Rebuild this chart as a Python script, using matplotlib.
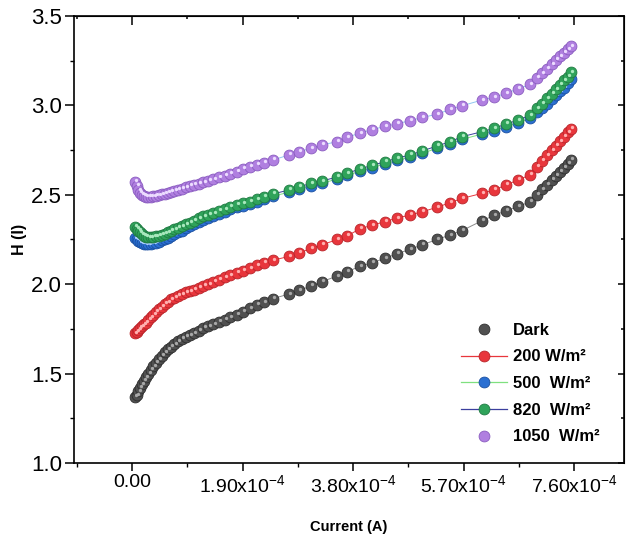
import matplotlib.pyplot as plt
import matplotlib.transforms as mtransforms
from matplotlib.lines import Line2D
from matplotlib.ticker import MultipleLocator
import numpy as np

plt.rcParams['font.family'] = ['Liberation Sans', 'DejaVu Sans']
plt.rcParams['mathtext.fontset'] = 'custom'
plt.rcParams['mathtext.rm'] = 'Liberation Sans'
plt.rcParams['mathtext.it'] = 'Liberation Sans:italic'
plt.rcParams['mathtext.bf'] = 'Liberation Sans:bold'

# current (units of 1e-4 A)
current = np.array([
    0.052, 0.081, 0.108, 0.138, 0.172, 0.206, 0.241, 0.280, 0.322, 0.366,
    0.413, 0.459, 0.511, 0.562, 0.614, 0.671, 0.727, 0.791, 0.855, 0.923,
    0.997, 1.066, 1.147, 1.226, 1.312, 1.398, 1.496, 1.594, 1.685, 1.800,
    1.909, 2.029, 2.149, 2.270, 2.425, 2.700, 2.872, 3.078, 3.267, 3.525,
    3.697, 3.920, 4.127, 4.350, 4.557, 4.780, 4.987, 5.245, 5.468, 5.674,
    6.018, 6.225, 6.431, 6.637, 6.844, 6.964, 7.050, 7.136, 7.222, 7.291,
    7.360, 7.428, 7.497, 7.549]) * 1e-4

h_dark = [
    1.37, 1.38, 1.40, 1.42, 1.44, 1.46, 1.48, 1.50, 1.52, 1.54,
    1.56, 1.58, 1.60, 1.62, 1.635, 1.65, 1.665, 1.68, 1.695, 1.705,
    1.715, 1.725, 1.74, 1.755, 1.765, 1.775, 1.79, 1.80, 1.815, 1.83,
    1.845, 1.865, 1.885, 1.90, 1.92, 1.945, 1.965, 1.99, 2.015, 2.045,
    2.07, 2.10, 2.12, 2.145, 2.17, 2.195, 2.22, 2.25, 2.275, 2.30,
    2.355, 2.385, 2.41, 2.435, 2.46, 2.50, 2.53, 2.555, 2.585, 2.605,
    2.63, 2.65, 2.675, 2.695]
h_200 = [
    1.725, 1.735, 1.745, 1.755, 1.765, 1.775, 1.785, 1.80, 1.815, 1.83,
    1.845, 1.86, 1.875, 1.89, 1.90, 1.915, 1.925, 1.935, 1.945, 1.955,
    1.96, 1.97, 1.98, 1.99, 2.00, 2.014, 2.025, 2.04, 2.05, 2.065,
    2.075, 2.09, 2.105, 2.12, 2.135, 2.155, 2.175, 2.20, 2.22, 2.25,
    2.27, 2.31, 2.33, 2.35, 2.37, 2.387, 2.405, 2.43, 2.456, 2.48,
    2.508, 2.527, 2.555, 2.583, 2.611, 2.657, 2.69, 2.72, 2.75, 2.775,
    2.80, 2.825, 2.85, 2.87]
h_500 = [
    2.258, 2.25, 2.242, 2.235, 2.23, 2.226, 2.224, 2.224, 2.225, 2.228,
    2.232, 2.238, 2.245, 2.252, 2.26, 2.27, 2.28, 2.29, 2.30, 2.312,
    2.325, 2.335, 2.35, 2.36, 2.37, 2.38, 2.395, 2.405, 2.418, 2.43,
    2.44, 2.45, 2.462, 2.477, 2.492, 2.515, 2.532, 2.552, 2.565, 2.588,
    2.608, 2.632, 2.652, 2.672, 2.692, 2.71, 2.732, 2.76, 2.784, 2.81,
    2.84, 2.858, 2.88, 2.902, 2.928, 2.962, 2.985, 3.01, 3.035, 3.058,
    3.08, 3.10, 3.125, 3.148]
h_820 = [
    2.322, 2.31, 2.30, 2.29, 2.28, 2.272, 2.265, 2.262, 2.262, 2.265,
    2.268, 2.272, 2.276, 2.282, 2.29, 2.298, 2.306, 2.315, 2.325, 2.335,
    2.345, 2.355, 2.37, 2.38, 2.388, 2.396, 2.41, 2.42, 2.433, 2.443,
    2.452, 2.461, 2.475, 2.49, 2.505, 2.527, 2.545, 2.564, 2.577, 2.60,
    2.62, 2.645, 2.665, 2.685, 2.705, 2.723, 2.745, 2.773, 2.797, 2.825,
    2.853, 2.872, 2.896, 2.918, 2.946, 2.985, 3.01, 3.04, 3.065, 3.09,
    3.115, 3.14, 3.16, 3.185]
h_1050 = [
    2.573, 2.55, 2.525, 2.51, 2.50, 2.494, 2.49, 2.489, 2.49, 2.492,
    2.495, 2.498, 2.502, 2.506, 2.51, 2.516, 2.522, 2.528, 2.535, 2.542,
    2.55, 2.556, 2.562, 2.57, 2.578, 2.587, 2.597, 2.607, 2.617, 2.63,
    2.645, 2.658, 2.668, 2.68, 2.695, 2.723, 2.741, 2.76, 2.779, 2.797,
    2.822, 2.845, 2.865, 2.882, 2.898, 2.914, 2.933, 2.95, 2.978, 2.998,
    3.03, 3.045, 3.068, 3.092, 3.118, 3.155, 3.18, 3.205, 3.23, 3.255,
    3.275, 3.295, 3.315, 3.33]

labels = ['Dark', '200 W/m²', '500  W/m²', '820  W/m²', '1050  W/m²']
series = [h_dark, h_200, h_500, h_820, h_1050]
colors = ['#505050', '#e8363c', '#2a6fd2', '#2fa35a', '#b07fe0']
edge_colors = ['#2e2e2e', '#b8242a', '#1a4fa0', '#1f7a42', '#8a5cc0']
shine = ['#a8a8a8', '#ffb0b0', '#a8ccff', '#a8e8bd', '#ecdcff']
line_colors = ['#8a8a8a', '#e8363c', '#7fe07f', '#3b3f9e', '#8fc7f0']
legend_line = [False, True, True, True, False]

x_ticks = [0, 1.9e-4, 3.8e-4, 5.7e-4, 7.6e-4]
x_labels = ['0.00', r'1.90x10$^{-4}$', r'3.80x10$^{-4}$', r'5.70x10$^{-4}$', r'7.60x10$^{-4}$']
y_ticks = [1.0, 1.5, 2.0, 2.5, 3.0, 3.5]

fig = plt.figure(figsize=(6.26, 5.38), dpi=100)
ax = fig.add_axes([74 / 626, 75 / 538, 550 / 626, 447 / 538])

shift = mtransforms.offset_copy(ax.transData, fig=fig, x=0.9, y=1.1, units='points')
for i, (y, lab) in enumerate(zip(series, labels)):
    ax.plot(current, y, '-', color=line_colors[i], lw=0.7, zorder=2 + i)
    ax.plot(current, y, 'o', ms=7.8, mfc=colors[i], mec=edge_colors[i], mew=0.6,
            ls='none', zorder=2 + i)
    ax.plot(current, y, 'o', ms=2.4, mfc=shine[i], mec='none', ls='none',
            transform=shift, zorder=2 + i)

ax.set_xlim(-1.0e-4, 8.46e-4)
ax.set_ylim(1.0, 3.5)
ax.set_xticks(x_ticks)
ax.set_xticklabels(x_labels)
ax.xaxis.set_minor_locator(MultipleLocator(0.95e-4))
ax.set_yticks(y_ticks)
ax.set_yticklabels(['%.1f' % v for v in y_ticks])
ax.yaxis.set_minor_locator(MultipleLocator(0.25))

ax.tick_params(axis='x', which='major', direction='out', length=6, width=1.1, labelsize=14, pad=2)
ax.tick_params(axis='y', which='major', direction='out', length=6.5, width=1.1, labelsize=16, pad=2)
ax.tick_params(which='minor', direction='out', length=3, width=1.0)
for s in ax.spines.values():
    s.set_linewidth(1.2)

# top / right ticks point inward
secx = ax.secondary_xaxis('top')
secx.set_xticks(x_ticks)
secx.xaxis.set_minor_locator(MultipleLocator(0.95e-4))
secx.tick_params(which='both', direction='in', labeltop=False, width=1.1)
secx.tick_params(which='major', length=6.5)
secx.tick_params(which='minor', length=2.5)
secy = ax.secondary_yaxis('right')
secy.set_yticks(y_ticks)
secy.yaxis.set_minor_locator(MultipleLocator(0.25))
secy.tick_params(which='both', direction='in', labelright=False, width=1.1)
secy.tick_params(which='major', length=4)
secy.tick_params(which='minor', length=2)

ax.set_xlabel('Current (A)', fontsize=10.5, fontweight='bold', labelpad=17)
ax.set_ylabel('H (I)', fontsize=11.5, fontweight='bold', labelpad=3)

handles = []
for i, lab in enumerate(labels):
    handles.append(Line2D([], [], color=line_colors[i], lw=0.9 if legend_line[i] else 0,
                          ls='-' if legend_line[i] else 'none', marker='o', ms=7.8,
                          mfc=colors[i], mec=edge_colors[i], mew=0.6))
ax.legend(handles, labels, loc='upper left', bbox_to_anchor=(454 / 626, 1 - 316 / 538),
          bbox_transform=fig.transFigure, frameon=False, borderaxespad=0,
          handlelength=2.76, handletextpad=0.4, labelspacing=0.7,
          prop={'weight': 'bold', 'size': 12})

fig.savefig('out.png', dpi=100)
